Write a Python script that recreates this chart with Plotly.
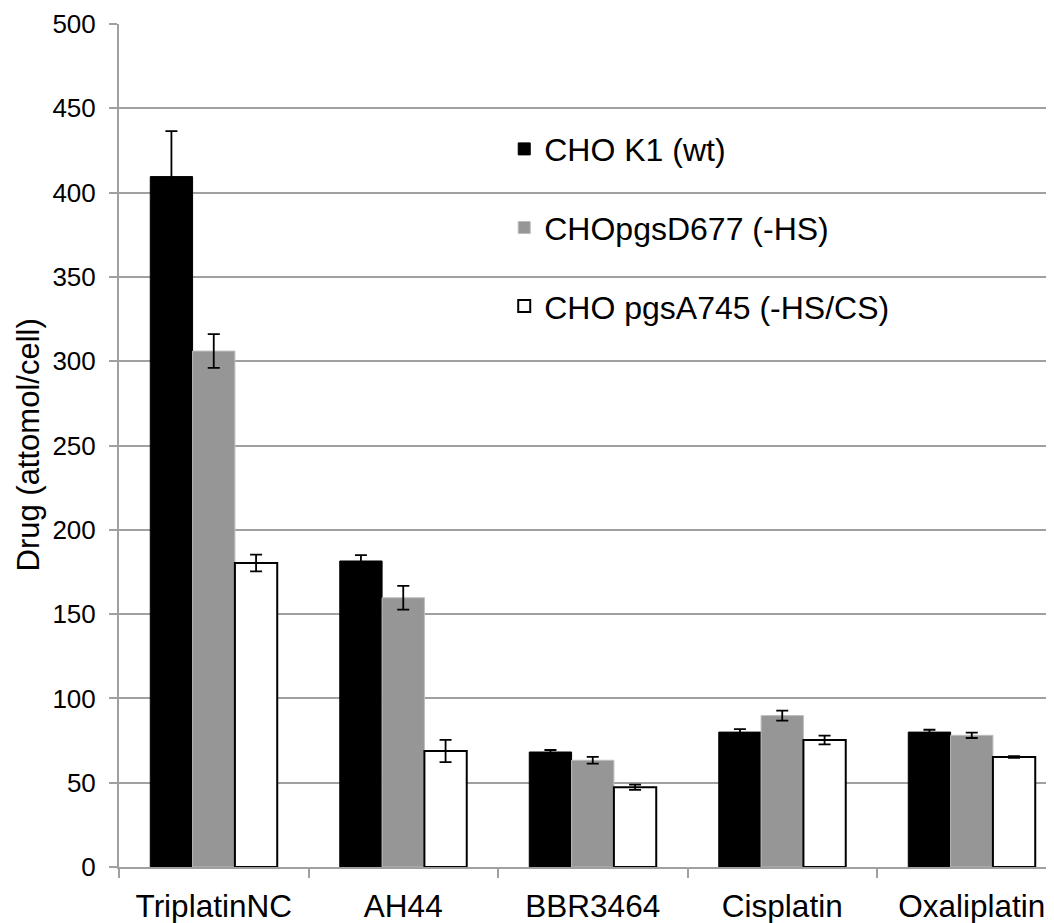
import plotly.graph_objects as go

categories = ["TriplatinNC", "AH44", "BBR3464", "Cisplatin", "Oxaliplatin"]
series_names = ["CHO K1 (wt)", "CHOpgsD677 (-HS)", "CHO pgsA745 (-HS/CS)"]
wt_vals = [409.5, 181.5, 68.2, 80.0, 80.0]
wt_err = [27.0, 3.5, 1.2, 1.8, 1.4]
d677_vals = [306.0, 159.7, 63.3, 89.8, 78.1]
d677_err = [10.0, 7.0, 2.0, 3.0, 1.6]
a745_vals = [180.3, 68.8, 47.3, 75.3, 65.2]
a745_err = [5.0, 6.6, 1.5, 2.6, 0.5]
y_ticks = [0, 50, 100, 150, 200, 250, 300, 350, 400, 450, 500]
y_title = "Drug (attomol/cell)"

FONT = "Liberation Sans, Arial, sans-serif"

styles = [
    dict(color="#000000", line=dict(color="#000000", width=1)),
    dict(color="#969696", line=dict(color="#bdbdbd", width=1)),
    dict(color="#ffffff", line=dict(color="#000000", width=2)),
]
vals = [wt_vals, d677_vals, a745_vals]
errs = [wt_err, d677_err, a745_err]

fig = go.Figure()
for i, name in enumerate(series_names):
    fig.add_trace(go.Bar(
        x=categories, y=vals[i], name=name,
        marker=styles[i],
        legendgroup=f"g{i}",
        error_y=dict(type="data", array=errs[i], visible=True,
                     color="#000000", thickness=1.8, width=6),
    ))

fig.update_layout(
    width=1046, height=915,
    margin=dict(l=111, r=0, t=16, b=56),
    paper_bgcolor="white", plot_bgcolor="white",
    barmode="group", bargap=0.33, bargroupgap=0,
    font=dict(family=FONT, color="#000000"),
    showlegend=True,
    legend=dict(x=0.412, y=0.7585, xanchor="left", yanchor="middle",
                bgcolor="rgba(0,0,0,0)", tracegroupgap=34,
                font=dict(size=32, family=FONT, color="#000000")),
    xaxis=dict(
        range=[-0.5, 4.434], showline=True, linecolor="#a0a0a0", linewidth=2,
        ticks="outside", tickson="boundaries", ticklen=9, tickcolor="#a0a0a0",
        tickwidth=1.5, tickfont=dict(size=31.5, family=FONT, color="#000000"),
        ticklabelstandoff=10,
        showgrid=False, automargin=False,
    ),
    yaxis=dict(
        range=[0, 500], tickvals=y_ticks, showline=True, linecolor="#a0a0a0",
        linewidth=2, ticks="outside", ticklen=8, tickcolor="#a0a0a0", tickwidth=1.5,
        showgrid=True, gridcolor="#a0a0a0", gridwidth=1.5, zeroline=False,
        tickfont=dict(size=26, family=FONT, color="#000000"), automargin=False,
        ticklabelstandoff=8,
    ),
    annotations=[dict(
        text=y_title, xref="paper", yref="paper",
        x=-(119 - 28) / 935, y=0.5, xanchor="center", yanchor="middle",
        textangle=-90, showarrow=False,
        font=dict(size=31, family=FONT, color="#000000"),
    )],
)

fig.write_html("out.html")
